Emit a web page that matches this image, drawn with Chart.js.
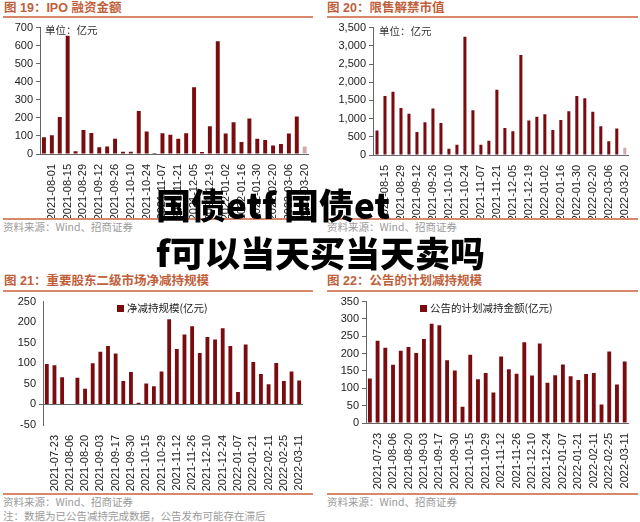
<!DOCTYPE html>
<html><head><meta charset="utf-8">
<script src="https://cdn.jsdelivr.net/npm/chart.js@4.4.1/dist/chart.umd.min.js"></script>
<style>
html,body{margin:0;padding:0;background:#fff;}
body{width:640px;height:522px;position:relative;overflow:hidden;font-family:"Liberation Sans","Noto Sans CJK SC",sans-serif;}
.cv{position:absolute;}
.title{position:absolute;font-family:"Liberation Sans","Noto Sans CJK SC",sans-serif;font-weight:bold;font-size:12.5px;color:#c0603a;white-space:nowrap;line-height:14px;}
.hl{position:absolute;height:1.5px;background:#d9876a;}
.src{position:absolute;font-family:"Noto Sans CJK SC",sans-serif;font-size:10.5px;color:#9a9a9a;white-space:nowrap;line-height:12px;}
.unit{position:absolute;font-family:"Noto Sans CJK SC",sans-serif;font-size:10.5px;color:#333;white-space:nowrap;line-height:12px;}
.leg{position:absolute;font-family:"Noto Sans CJK SC",sans-serif;font-size:10.5px;color:#222;white-space:nowrap;line-height:12px;}
.leg i{display:inline-block;width:7px;height:7px;background:#7a0c10;margin-right:3px;vertical-align:0px;}
.big{position:absolute;font-family:"Noto Sans CJK SC",sans-serif;font-weight:900;font-size:35px;color:#000;white-space:nowrap;line-height:38px;}
</style></head><body>

<div class="title" style="left:4px;top:1px;">图 19：IPO 融资金额</div>
<div class="hl" style="left:3px;top:16px;width:310px;"></div>
<div class="title" style="left:327px;top:1px;">图 20：限售解禁市值</div>
<div class="hl" style="left:327px;top:16px;width:311px;"></div>
<div class="title" style="left:4px;top:274px;">图 21：重要股东二级市场净减持规模</div>
<div class="hl" style="left:3px;top:290px;width:310px;"></div>
<div class="title" style="left:327px;top:274px;">图 22：公告的计划减持规模</div>
<div class="hl" style="left:327px;top:290px;width:311px;"></div>

<canvas id="c19" class="cv" style="left:0px;top:18px;" width="320" height="200"></canvas>
<canvas id="c20" class="cv" style="left:320px;top:18px;" width="320" height="200"></canvas>
<canvas id="c21" class="cv" style="left:0px;top:292px;" width="320" height="200"></canvas>
<canvas id="c22" class="cv" style="left:320px;top:292px;" width="320" height="200"></canvas>

<div class="unit" style="left:45px;top:24px;">单位：亿元</div>
<div class="unit" style="left:379px;top:25px;">单位：亿元</div>
<div class="leg" id="leg21" style="left:117px;top:302px;"><i></i><span></span></div>
<div class="leg" id="leg22" style="left:420px;top:302px;"><i></i><span></span></div>

<div class="hl" style="left:3px;top:218px;width:310px;"></div>
<div class="hl" style="left:327px;top:218px;width:311px;"></div>
<div class="src" style="left:3px;top:221px;">资料来源：Wind、招商证券</div>
<div class="src" style="left:327px;top:221px;">资料来源：Wind、招商证券</div>

<div class="hl" style="left:3px;top:493px;width:310px;"></div>
<div class="hl" style="left:327px;top:493px;width:311px;"></div>
<div class="src" style="left:3px;top:496px;">资料来源：Wind、招商证券</div>
<div class="src" style="left:3px;top:510px;">注：数据为已公告减持完成数据，公告发布可能存在滞后</div>
<div class="src" style="left:327px;top:496px;">资料来源：Wind、招商证券</div>

<div class="big" style="left:156px;top:185px;">国债etf 国债et</div>
<div class="big" style="left:156px;top:233px;">f可以当天买当天卖吗</div>

<script>
// ---- data ----
const ipoDates = ["2021-07-25","2021-08-01","2021-08-08","2021-08-15","2021-08-22","2021-08-29","2021-09-05","2021-09-12","2021-09-19","2021-09-26","2021-10-03","2021-10-10","2021-10-17","2021-10-24","2021-10-31","2021-11-07","2021-11-14","2021-11-21","2021-11-28","2021-12-05","2021-12-12","2021-12-19","2021-12-26","2022-01-02","2022-01-09","2022-01-16","2022-01-23","2022-01-30","2022-02-13","2022-02-20","2022-02-27","2022-03-06","2022-03-13","2022-03-20"];
const ipoValues = [93,104,205,655,15,133,116,38,42,85,13,13,238,125,5,115,107,85,115,369,11,153,624,113,176,67,196,85,78,47,55,113,207,42];

const unlockDates = ["2021-08-08","2021-08-15","2021-08-22","2021-08-29","2021-09-05","2021-09-12","2021-09-19","2021-09-26","2021-10-03","2021-10-10","2021-10-17","2021-10-24","2021-10-31","2021-11-07","2021-11-14","2021-11-21","2021-11-28","2021-12-05","2021-12-12","2021-12-19","2021-12-26","2022-01-02","2022-01-09","2022-01-16","2022-01-23","2022-01-30","2022-02-13","2022-02-20","2022-02-27","2022-03-06","2022-03-13","2022-03-20"];
const unlockValues = [670,1620,1740,1290,1130,630,900,1280,880,170,280,3250,1230,280,390,1790,740,650,2750,950,1050,1120,690,960,1200,1620,1560,1190,790,380,730,200];

const reduceDates = ["2021-07-16","2021-07-23","2021-07-30","2021-08-06","2021-08-13","2021-08-20","2021-08-27","2021-09-03","2021-09-10","2021-09-17","2021-09-24","2021-09-30","2021-10-08","2021-10-15","2021-10-22","2021-10-29","2021-11-05","2021-11-12","2021-11-19","2021-11-26","2021-12-03","2021-12-10","2021-12-17","2021-12-24","2021-12-31","2022-01-07","2022-01-14","2022-01-21","2022-01-28","2022-02-11","2022-02-18","2022-02-25","2022-03-04","2022-03-11"];
const netReduceValues = [98,95,66,1,65,38,100,128,142,124,57,79,4,51,44,80,207,135,170,190,125,164,158,185,142,30,146,103,74,49,101,57,80,58];
const planReduceValues = [128,237,217,168,208,219,202,242,286,282,181,151,47,197,126,144,88,192,155,142,233,137,229,116,138,169,135,124,141,144,53,206,111,177];

const netReduceLabel = "净减持规模(亿元)";
const planReduceLabel = "公告的计划减持金额(亿元)";

document.querySelector("#leg21 span").textContent = netReduceLabel;
document.querySelector("#leg22 span").textContent = planReduceLabel;

// ---- helpers ----
const BAR = "#7a0c10";
const TICK_FONT = {family:"'Liberation Sans', Arial, sans-serif", size:11};

function makeChart(id, labels, values, cfg){
  const n = values.length;
  const colors = values.map((v,i)=> (cfg.lastLight && i===n-1) ? "rgba(122,12,16,0.35)" : BAR);
  return new Chart(document.getElementById(id), {
    type:"bar",
    data:{labels:labels, datasets:[{label:cfg.legend||"", data:values, backgroundColor:colors,
      barPercentage:cfg.barPct, categoryPercentage:1.0}]},
    options:{
      responsive:false, animation:false,
      layout:{padding:cfg.padding},
      plugins:{ legend:{display:false}, tooltip:{enabled:false} },
      scales:{
        x:{
          grid:{display:false, drawOnChartArea:false},
          border:{display:cfg.xBorder!==false, color:"#666"},
          ticks:{autoSkip:false, maxRotation:90, minRotation:90, color:"#222", font:TICK_FONT, padding:2,
            callback:function(v,i){ return (i%2===1) ? labels[i] : ""; }},
          afterFit:function(s){ s.height = cfg.xHeight; }
        },
        y:{
          min:cfg.min, max:cfg.max,
          grid:{display:true, drawOnChartArea:cfg.zeroLine===true, tickLength:4, color:function(c){
              return (c.tick && c.tick.value===0) ? "#666" : (cfg.zeroLine ? "rgba(0,0,0,0)" : "#666");
            }},
          border:{display:true, color:"#666"},
          ticks:{stepSize:cfg.step, color:"#222", font:TICK_FONT, padding:3,
            callback:function(v){ return cfg.comma ? Number(v).toLocaleString("en-US") : v; }},
          afterFit:function(s){ s.width = cfg.yWidth; }
        }
      }
    }
  });
}

makeChart("c19", ipoDates, ipoValues, {min:0,max:700,step:100,barPct:0.5,yWidth:40,xHeight:64,
  padding:{top:2,right:8,left:0,bottom:0}, lastLight:true});
makeChart("c20", unlockDates, unlockValues, {min:0,max:3500,step:500,barPct:0.38,yWidth:53,xHeight:63,
  padding:{top:4,right:2,left:0,bottom:0}, comma:true, lastLight:true});
makeChart("c21", reduceDates, netReduceValues, {min:-50,max:250,step:50,barPct:0.5,yWidth:43,xHeight:67,
  padding:{top:3,right:17,left:0,bottom:0}, zeroLine:true, xBorder:false});
makeChart("c22", reduceDates, planReduceValues, {min:0,max:350,step:50,barPct:0.5,yWidth:46,xHeight:69,
  padding:{top:6,right:8,left:0,bottom:0}});
</script>
</body></html>
